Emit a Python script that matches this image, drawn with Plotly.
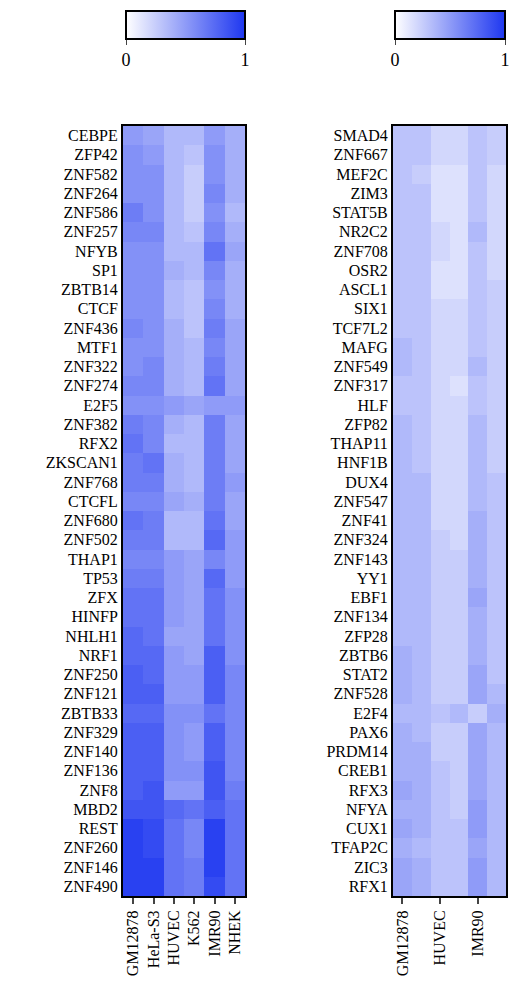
import plotly.graph_objects as go

cells = ["GM12878", "HeLa-S3", "HUVEC", "K562", "IMR90", "NHEK"]

left_tfs = ["CEBPE","ZFP42","ZNF582","ZNF264","ZNF586","ZNF257","NFYB","SP1","ZBTB14","CTCF",
            "ZNF436","MTF1","ZNF322","ZNF274","E2F5","ZNF382","RFX2","ZKSCAN1","ZNF768","CTCFL",
            "ZNF680","ZNF502","THAP1","TP53","ZFX","HINFP","NHLH1","NRF1","ZNF250","ZNF121",
            "ZBTB33","ZNF329","ZNF140","ZNF136","ZNF8","MBD2","REST","ZNF260","ZNF146","ZNF490"]
left_vals = [
 [.5,.45,.35,.35,.5,.4],[.55,.5,.35,.3,.55,.4],[.55,.55,.35,.25,.55,.4],[.55,.55,.35,.25,.6,.4],
 [.65,.55,.35,.25,.55,.35],[.6,.6,.35,.3,.6,.4],[.55,.55,.35,.35,.7,.45],[.55,.55,.4,.35,.6,.4],
 [.55,.55,.35,.3,.55,.4],[.55,.55,.35,.3,.6,.4],[.6,.55,.4,.3,.65,.45],[.55,.55,.4,.35,.6,.45],
 [.55,.6,.4,.35,.65,.45],[.6,.6,.4,.35,.7,.45],[.55,.55,.5,.45,.5,.5],[.65,.6,.4,.35,.65,.45],
 [.7,.6,.35,.35,.65,.45],[.65,.7,.4,.35,.65,.45],[.65,.65,.4,.35,.65,.5],[.6,.6,.45,.4,.65,.45],
 [.7,.65,.35,.35,.7,.45],[.65,.65,.35,.35,.75,.5],[.6,.6,.5,.45,.6,.5],[.65,.65,.5,.45,.75,.5],
 [.7,.7,.5,.45,.7,.55],[.7,.7,.5,.45,.7,.55],[.75,.7,.45,.45,.7,.55],[.75,.75,.5,.45,.8,.55],
 [.8,.75,.5,.5,.8,.6],[.8,.8,.5,.5,.8,.6],[.75,.75,.55,.55,.7,.6],[.8,.8,.55,.5,.8,.6],
 [.8,.8,.55,.5,.8,.6],[.8,.8,.55,.55,.85,.6],[.8,.85,.5,.5,.85,.65],[.85,.85,.75,.7,.8,.7],
 [.95,.9,.7,.6,.95,.7],[.95,.9,.7,.6,.95,.7],[.95,.95,.7,.65,.95,.7],[.95,.95,.7,.65,.9,.7]]

right_tfs = ["SMAD4","ZNF667","MEF2C","ZIM3","STAT5B","NR2C2","ZNF708","OSR2","ASCL1","SIX1",
             "TCF7L2","MAFG","ZNF549","ZNF317","HLF","ZFP82","THAP11","HNF1B","DUX4","ZNF547",
             "ZNF41","ZNF324","ZNF143","YY1","EBF1","ZNF134","ZFP28","ZBTB6","STAT2","ZNF528",
             "E2F4","PAX6","PRDM14","CREB1","RFX3","NFYA","CUX1","TFAP2C","ZIC3","RFX1"]
right_vals = [
 [.3,.3,.2,.2,.3,.25],[.3,.3,.2,.2,.3,.25],[.3,.25,.15,.15,.3,.2],[.3,.3,.15,.15,.3,.2],
 [.3,.3,.15,.15,.3,.2],[.3,.3,.2,.15,.35,.2],[.3,.3,.2,.15,.3,.2],[.3,.3,.15,.15,.3,.2],
 [.3,.3,.15,.15,.3,.25],[.3,.3,.2,.2,.3,.25],[.3,.3,.2,.2,.3,.25],[.35,.3,.2,.2,.3,.25],
 [.35,.3,.2,.2,.35,.25],[.3,.3,.2,.15,.3,.25],[.3,.3,.2,.2,.3,.25],[.35,.3,.2,.2,.35,.25],
 [.35,.3,.2,.2,.35,.25],[.35,.3,.2,.2,.35,.25],[.35,.35,.2,.2,.35,.3],[.35,.35,.2,.2,.35,.3],
 [.35,.35,.2,.2,.4,.3],[.35,.35,.25,.2,.4,.3],[.35,.35,.25,.25,.4,.3],[.35,.35,.25,.25,.4,.3],
 [.35,.35,.25,.25,.45,.3],[.35,.35,.25,.25,.4,.3],[.35,.35,.25,.25,.4,.3],[.4,.35,.25,.25,.4,.3],
 [.4,.35,.25,.25,.45,.3],[.4,.35,.25,.25,.45,.35],[.35,.35,.3,.35,.25,.4],[.4,.35,.25,.25,.45,.35],
 [.4,.4,.25,.25,.45,.35],[.4,.4,.3,.25,.45,.35],[.45,.4,.3,.25,.45,.35],[.4,.4,.3,.25,.5,.35],
 [.45,.4,.3,.3,.5,.35],[.4,.35,.3,.3,.45,.35],[.45,.4,.3,.3,.5,.35],[.45,.4,.3,.3,.5,.35]]

cs = [[0, "white"], [1, "rgb(30,55,240)"]]
W, H = 520, 987
fig = go.Figure()
fig.add_trace(go.Heatmap(z=left_vals, x=cells, y=left_tfs, coloraxis="coloraxis",
                         xaxis="x", yaxis="y"))
fig.add_trace(go.Heatmap(z=right_vals, x=cells, y=right_tfs, coloraxis="coloraxis2",
                         xaxis="x2", yaxis="y2"))

font = dict(family="Liberation Serif", size=16, color="black")
ytop, ybot = 1 - 118 / H, 1 - 888 / H
ax = dict(showline=True, linewidth=2, linecolor="black", mirror=True, ticks="", tickfont=font)
xax = dict(ax, ticks="outside", ticklen=6, tickwidth=2, tickangle=-90)
yax = dict(ax, autorange="reversed", ticklen=0)

def cb(x0, x1):
    return dict(orientation="h", x=(x0 + x1) / 2 / W, xanchor="center", xref="paper",
                y=1, yanchor="top", yref="paper", ypad=3, xpad=0, lenmode="pixels", len=x1 - x0,
                thickness=28, outlinewidth=2, outlinecolor="black", tickvals=[0, 1],
                ticktext=["0", "1"], ticks="outside", tickfont=dict(font, size=18))

fig.update_layout(
    width=W, height=H, margin=dict(l=0, r=0, t=0, b=0),
    paper_bgcolor="white", plot_bgcolor="white", font=font,
    xaxis=dict(xax, domain=[115 / W, 237 / W], anchor="y"),
    yaxis=dict(yax, domain=[ybot, ytop], anchor="x"),
    xaxis2=dict(xax, domain=[385 / W, 498 / W], anchor="y2"),
    yaxis2=dict(yax, domain=[ybot, ytop], anchor="x2"),
    coloraxis=dict(colorscale=cs, cmin=0, cmax=1, colorbar=cb(118, 237)),
    coloraxis2=dict(colorscale=cs, cmin=0, cmax=1, colorbar=cb(387, 497)),
)
fig.write_html("out.html")
